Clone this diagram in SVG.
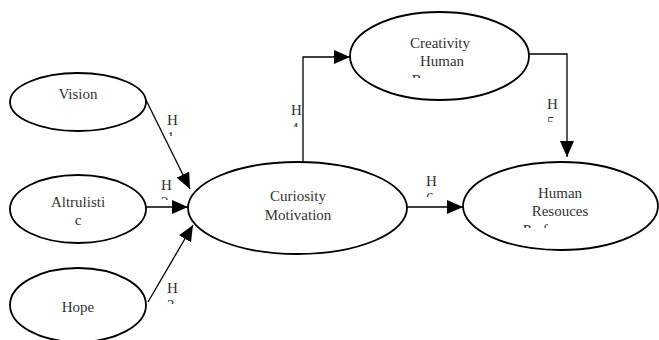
<svg xmlns="http://www.w3.org/2000/svg" width="659" height="340" viewBox="0 0 659 340">
<style>
.node{fill:#fff;stroke:#000;stroke-width:1.8}
.t{font-family:"Liberation Serif","Times New Roman",serif;font-size:15px;fill:#333;text-anchor:middle}
.h{font-family:"Liberation Serif","Times New Roman",serif;font-size:15px;fill:#333}
.c{fill:none;stroke:#000;stroke-width:1.3}
</style>
<defs>
<marker id="ah" markerUnits="userSpaceOnUse" markerWidth="16" markerHeight="14" refX="16" refY="7" orient="auto">
<path d="M0,0 L16,7 L0,14 z" fill="#000"/>
</marker>
<clipPath id="cCre"><rect x="350" y="10" width="180" height="68"/></clipPath>
<clipPath id="cHR"><rect x="463" y="160" width="196" height="68"/></clipPath>
<clipPath id="cH1"><rect x="160" y="105" width="30" height="31"/></clipPath>
<clipPath id="cH2"><rect x="155" y="170" width="30" height="30"/></clipPath>
<clipPath id="cH3"><rect x="160" y="273" width="30" height="31"/></clipPath>
<clipPath id="cH4"><rect x="285" y="95" width="17" height="32"/></clipPath>
<clipPath id="cH5"><rect x="540" y="90" width="25" height="32"/></clipPath>
<clipPath id="cH6"><rect x="420" y="166" width="30" height="31"/></clipPath>
</defs>
<g id="connectors">
<line class="c" x1="146" y1="100" x2="190" y2="189" marker-end="url(#ah)"/>
<line class="c" x1="146" y1="207" x2="188" y2="207" marker-end="url(#ah)"/>
<line class="c" x1="148" y1="302" x2="193" y2="225" marker-end="url(#ah)"/>
<polyline class="c" points="303,162 303,57 350,57" marker-end="url(#ah)"/>
<polyline class="c" points="529,54 567,54 567,157" marker-end="url(#ah)"/>
<line class="c" x1="407" y1="207" x2="463" y2="207" marker-end="url(#ah)"/>
</g>
<g id="labels">
<g clip-path="url(#cH1)"><text class="h" x="167" y="125">H</text><text class="h" x="167" y="142">1</text></g>
<g clip-path="url(#cH2)"><text class="h" x="161" y="190">H</text><text class="h" x="161" y="207">2</text></g>
<g clip-path="url(#cH3)"><text class="h" x="167" y="293">H</text><text class="h" x="167" y="310">3</text></g>
<g clip-path="url(#cH4)"><text class="h" x="291" y="115">H</text><text class="h" x="291" y="133">4</text></g>
<g clip-path="url(#cH5)"><text class="h" x="547" y="109">H</text><text class="h" x="547" y="127">5</text></g>
<g clip-path="url(#cH6)"><text class="h" x="426" y="186">H</text><text class="h" x="426" y="203">6</text></g>
</g>
<g id="vision">
<ellipse class="node" cx="78" cy="102" rx="68" ry="29"/>
<text class="t" x="78" y="99">Vision</text>
</g>
<g id="altrulistic">
<ellipse class="node" cx="78" cy="209" rx="68" ry="34"/>
<text class="t" x="78" y="207">Altrulisti</text>
<text class="t" x="78" y="225">c</text>
</g>
<g id="hope">
<ellipse class="node" cx="78" cy="305" rx="68" ry="37"/>
<text class="t" x="78" y="312">Hope</text>
</g>
<g id="curiosity">
<ellipse class="node" cx="297.5" cy="208" rx="109.5" ry="46"/>
<text class="t" x="298" y="201">Curiosity</text>
<text class="t" x="298" y="220">Motivation</text>
</g>
<g id="creativity">
<ellipse class="node" cx="439.5" cy="56" rx="89.5" ry="44"/>
<g clip-path="url(#cCre)">
<text class="t" x="440" y="48">Creativity</text>
<text class="t" x="442" y="66">Human</text>
<text class="t" x="440" y="85">Resouces</text>
</g>
</g>
<g id="hrperformance">
<ellipse class="node" cx="560.5" cy="206" rx="97.5" ry="44"/>
<g clip-path="url(#cHR)">
<text class="t" x="560" y="198">Human</text>
<text class="t" x="560" y="216">Resouces</text>
<text class="t" x="561" y="235">Performance</text>
</g>
</g>
</svg>
